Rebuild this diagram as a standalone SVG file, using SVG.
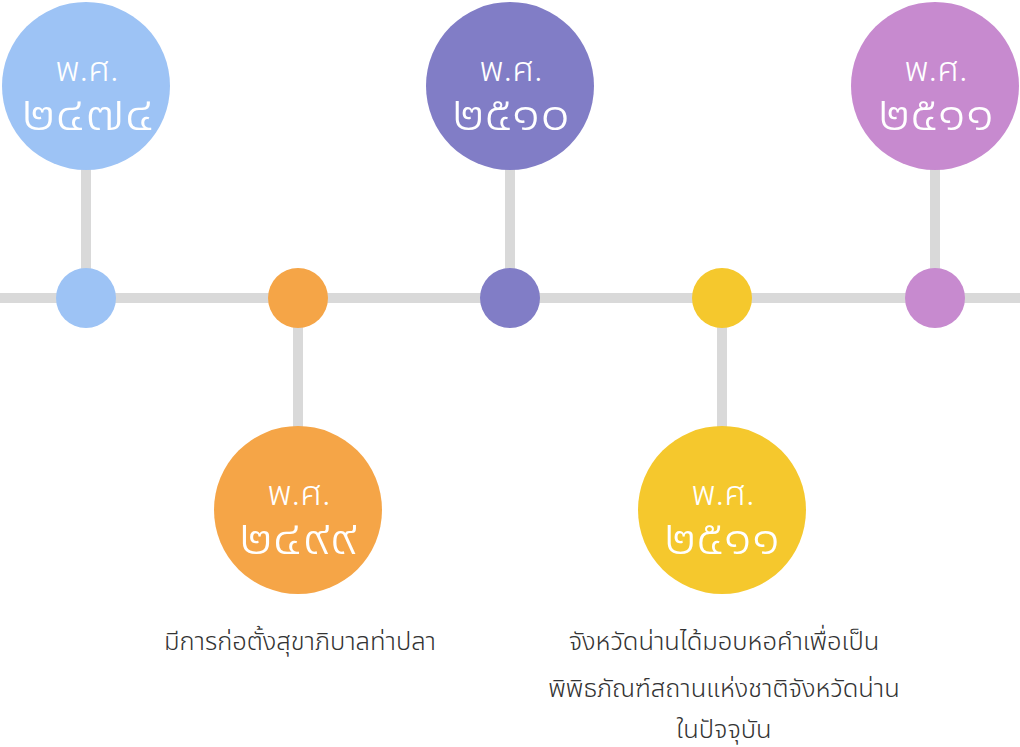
<svg xmlns="http://www.w3.org/2000/svg" width="1020" height="747" viewBox="0 0 1020 747">
<style>
.ln{stroke:#d9d9d9;stroke-width:10;fill:none}
.t1{font-family:"Noto Sans Thai","Noto Sans","Liberation Sans",sans-serif;font-size:33px;font-weight:300;fill:#ffffff;text-anchor:middle}
.t2{font-family:"Noto Sans Thai","Noto Sans","Liberation Sans",sans-serif;font-size:48px;fill:#ffffff;text-anchor:middle;font-weight:300}
.lb{font-family:"Noto Sans Thai","Noto Sans","Liberation Sans",sans-serif;font-size:25.5px;font-weight:300;fill:#333333;text-anchor:middle}
.blue{fill:#9dc3f5}.orange{fill:#f5a547}.purple{fill:#817dc6}.yellow{fill:#f5c82d}.pink{fill:#c78acf}
</style>
<rect width="1020" height="747" fill="#ffffff"/>
<g id="connectors">
<line class="ln" x1="0" y1="298" x2="1020" y2="298"/>
<line class="ln" x1="86" y1="168" x2="86" y2="270"/>
<line class="ln" x1="510" y1="168" x2="510" y2="270"/>
<line class="ln" x1="935" y1="168" x2="935" y2="270"/>
<line class="ln" x1="298" y1="326" x2="298" y2="428"/>
<line class="ln" x1="722" y1="326" x2="722" y2="428"/>
</g>
<g id="dot1"><circle class="blue" cx="86" cy="298" r="30"/></g>
<g id="dot2"><circle class="orange" cx="298" cy="298" r="30"/></g>
<g id="dot3"><circle class="purple" cx="510" cy="298" r="30"/></g>
<g id="dot4"><circle class="yellow" cx="722" cy="298" r="30"/></g>
<g id="dot5"><circle class="pink" cx="935" cy="298" r="30"/></g>
<g id="year2474"><circle class="blue" cx="86" cy="86" r="84"/><text class="t1" x="87" y="81" textLength="63" lengthAdjust="spacingAndGlyphs">พ.ศ.</text><text class="t2" x="88" y="130" textLength="133" lengthAdjust="spacingAndGlyphs">๒๔๗๔</text></g>
<g id="year2510"><circle class="purple" cx="510" cy="86" r="84"/><text class="t1" x="511" y="81" textLength="63" lengthAdjust="spacingAndGlyphs">พ.ศ.</text><text class="t2" x="511" y="130" textLength="118" lengthAdjust="spacingAndGlyphs">๒๕๑๐</text></g>
<g id="year2511a"><circle class="pink" cx="935" cy="86" r="84"/><text class="t1" x="936" y="81" textLength="63" lengthAdjust="spacingAndGlyphs">พ.ศ.</text><text class="t2" x="936" y="130" textLength="116" lengthAdjust="spacingAndGlyphs">๒๕๑๑</text></g>
<g id="year2499"><circle class="orange" cx="298" cy="510" r="84"/><text class="t1" x="299" y="505" textLength="63" lengthAdjust="spacingAndGlyphs">พ.ศ.</text><text class="t2" x="298" y="554" textLength="118" lengthAdjust="spacingAndGlyphs">๒๔๙๙</text></g>
<g id="year2511b"><circle class="yellow" cx="722" cy="510" r="84"/><text class="t1" x="723" y="505" textLength="63" lengthAdjust="spacingAndGlyphs">พ.ศ.</text><text class="t2" x="722" y="554" textLength="116" lengthAdjust="spacingAndGlyphs">๒๕๑๑</text></g>
<g id="label1"><text class="lb" x="300" y="650">มีการก่อตั้งสุขาภิบาลท่าปลา</text></g>
<g id="label2"><text class="lb" x="724" y="650">จังหวัดน่านได้มอบหอคำเพื่อเป็น</text><text class="lb" x="724" y="697">พิพิธภัณฑ์สถานแห่งชาติจังหวัดน่าน</text><text class="lb" x="724" y="738">ในปัจจุบัน</text></g>
</svg>
